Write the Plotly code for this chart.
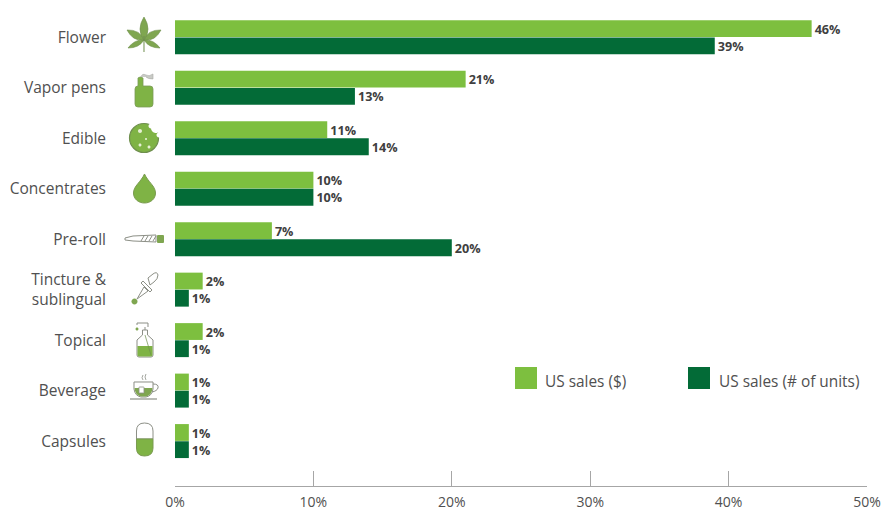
import plotly.graph_objects as go

categories = ["Flower", "Vapor pens", "Edible", "Concentrates", "Pre-roll",
              "Tincture &<br>sublingual", "Topical", "Beverage", "Capsules"]
sales_dollars = [46, 21, 11, 10, 7, 2, 2, 1, 1]
sales_units = [39, 13, 14, 10, 20, 1, 1, 1, 1]
x_ticks = [0, 10, 20, 30, 40, 50]
x_tick_labels = ["0%", "10%", "20%", "30%", "40%", "50%"]
series_names = ["US sales ($)", "US sales (# of units)"]

W, H = 883, 510
LIGHT, DARK = "#7DBF3F", "#036B37"
ICON, OUTLINE = "#7CB342", "#8C8F86"
TEXT = "#505050"
ML, MR, MT, MB = 175, 16, 12, 24


def px(x):
    return (x - ML) / (W - ML - MR)


def py(y):
    return 1 - (y - MT) / (H - MT - MB)


def to_paper(path):
    """Convert an SVG path written in page pixels to paper coordinates."""
    out, is_x = [], True
    for tok in path.split():
        if tok.isalpha():
            out.append(tok)
            is_x = True
        else:
            out.append(f"{px(float(tok)):.5f}" if is_x else f"{py(float(tok)):.5f}")
            is_x = not is_x
    return " ".join(out)


shapes = []


def icon(path, fill=None, line=None, width=1.0):
    shapes.append(dict(
        type="path", xref="paper", yref="paper", path=to_paper(path),
        fillcolor=fill or "rgba(0,0,0,0)",
        line=dict(color=line or "rgba(0,0,0,0)", width=width if line else 0),
        layer="above"))


def disc(cx, cy, r, fill=None, line=None, width=1.0):
    k = 0.5523 * r
    icon(f"M {cx-r} {cy} C {cx-r} {cy-k} {cx-k} {cy-r} {cx} {cy-r} "
         f"C {cx+k} {cy-r} {cx+r} {cy-k} {cx+r} {cy} "
         f"C {cx+r} {cy+k} {cx+k} {cy+r} {cx} {cy+r} "
         f"C {cx-k} {cy+r} {cx-r} {cy+k} {cx-r} {cy} Z", fill, line, width)


def rounded(x0, y0, x1, y1, r, fill=None, line=None, width=1.0):
    icon(f"M {x0+r} {y0} L {x1-r} {y0} Q {x1} {y0} {x1} {y0+r} L {x1} {y1-r} "
         f"Q {x1} {y1} {x1-r} {y1} L {x0+r} {y1} Q {x0} {y1} {x0} {y1-r} "
         f"L {x0} {y0+r} Q {x0} {y0} {x0+r} {y0} Z", fill, line, width)


def leaflet(bx, by, tx, ty, w):
    dx, dy = tx - bx, ty - by
    ln = (dx * dx + dy * dy) ** 0.5
    nx, ny = -dy / ln * w, dx / ln * w
    mx, my = bx + dx * 0.45, by + dy * 0.45
    icon(f"M {bx} {by} Q {mx+nx:.1f} {my+ny:.1f} {tx} {ty} "
         f"Q {mx-nx:.1f} {my-ny:.1f} {bx} {by} Z", "#7FA650", "#6F8F4E", 0.6)


# Flower: cannabis leaf
for tip, w in [((128, 48), 5), ((160, 48), 5), ((127, 30), 7), ((161, 30), 7), ((144, 17), 8)]:
    leaflet(144, 40, tip[0], tip[1], w)
icon("M 144 36 L 144 52", None, "#6F8F4E", 1)

# Vapor pen: cartridge with a puff above it
icon("M 138 86 L 138 78 Q 140 76 143 78 L 143 86 L 150 86 Q 153 86 153 89 L 153 104 "
     "Q 153 107 150 107 L 138 107 Q 135 107 135 104 L 135 89 Q 135 86 138 86 Z",
     "#7FB345", "#7B9A58", 0.8)
icon("M 141 77 Q 142 73 146 75 Q 149 77 153 74 L 153 79 Q 148 79 146 77", "#C9CBC6", "#A8AAA5", 0.6)

# Edible: cookie with a bite
disc(144, 138, 14.5, "#7FB345", "#6F8F4E", 1.2)
disc(156, 128, 5, "#FFFFFF")
disc(151, 126, 2.5, "#FFFFFF")
disc(159, 135, 2.5, "#FFFFFF")
for cx, cy, r in [(140, 131, 2), (140, 145, 1.5), (149, 147, 1.5), (146, 139, 1)]:
    disc(cx, cy, r, "#E6F0D5")

# Concentrates: droplet
icon("M 144.5 174 C 141 182 133.5 186 133.5 193 C 133.5 199 138.5 203 144.5 203 "
     "C 150.5 203 155.5 199 155.5 193 C 155.5 186 148 182 144.5 174 Z",
     "#7FB345", "#7A9A50", 1)

# Pre-roll: joint with a filter tip
icon("M 125 238 L 133 236 L 156 235 L 156 242 L 133 241 L 125 240 Z", "#FFFFFF", OUTLINE, 1)
for sx in (141, 145, 149, 153):
    icon(f"M {sx} 241 L {sx+3} 236", None, OUTLINE, 1)
rounded(157, 235, 164, 243, 1, "#7FA650")

# Tincture: dropper pipette
icon("M 148 278 L 153 274 Q 157 271 158 275 Q 158 279 154 282 L 150 285 Z", "#FFFFFF", OUTLINE, 1)
icon("M 143 281 L 152 290 L 150 292 L 141 283 Z", "#FFFFFF", OUTLINE, 1)
icon("M 144 287 L 148 291 L 137 299 Z", "#FFFFFF", OUTLINE, 1)
disc(134.5, 301.5, 3, "#7FA650")

# Topical: pump bottle
icon("M 142.5 330 L 147.5 330 L 147.5 335 L 153 340 L 153 355 Q 153 357 151 357 L 139 357 "
     "Q 137 357 137 355 L 137 340 L 142.5 335 Z", "#FFFFFF", OUTLINE, 1)
icon("M 137.5 346 L 152.5 346 L 152.5 355 Q 152.5 356.5 151 356.5 L 139 356.5 "
     "Q 137.5 356.5 137.5 355 Z", "#7FB345")
icon("M 137 325 L 137 323 L 148 323 L 148 327 M 145 327 L 145 330", None, OUTLINE, 1)
icon("M 145 335 L 151 355", None, "#6F8F4E", 0.7)
disc(137, 329, 1.5, "#7FA650")

# Beverage: tea cup and saucer
icon("M 134 382 L 153 382 L 153 389 Q 152 396 146 397 L 141 397 Q 135 396 134 389 Z", "#FFFFFF", OUTLINE, 1)
icon("M 134.5 388 L 152.5 388 Q 152 395 146 396.5 L 141 396.5 Q 135 395 134.5 388 Z", "#7FA650")
icon("M 153 384 Q 159 384 158 388 Q 157 391 152 392", None, OUTLINE, 1)
icon("M 130 399 L 157 399", None, OUTLINE, 1.2)
icon("M 143 375 Q 141 378 143 380 M 146 374 Q 144 377 146 380", None, OUTLINE, 0.8)
rounded(139, 387, 144, 393, 0.5, "#FFFFFF", OUTLINE, 0.8)

# Capsules: half-filled pill
icon("M 136.5 439 L 136.5 431 Q 136.5 423 144.5 423 Q 153 423 153 431 L 153 439 Z", "#FFFFFF", OUTLINE, 1)
icon("M 136.5 439 L 153 439 L 153 448 Q 153 456 144.5 456 Q 136.5 456 136.5 448 Z", "#7FB345", "#7A9A50", 1)

# Legend swatches
shapes.append(dict(type="rect", xref="paper", yref="paper", x0=px(515), x1=px(537),
                   y0=py(389), y1=py(367), fillcolor=LIGHT, line_width=0))
shapes.append(dict(type="rect", xref="paper", yref="paper", x0=px(688), x1=px(710),
                   y0=py(389), y1=py(367), fillcolor=DARK, line_width=0))

annotations = [
    dict(text=series_names[0], x=px(543), y=py(381.5), xref="paper", yref="paper",
         xanchor="left", yanchor="middle", showarrow=False,
         font=dict(family="Open Sans", size=15.4, color=TEXT)),
    dict(text=series_names[1], x=px(717), y=py(381.5), xref="paper", yref="paper",
         xanchor="left", yanchor="middle", showarrow=False,
         font=dict(family="Open Sans", size=15.4, color=TEXT)),
]

fig = go.Figure()
for name, values, color in [(series_names[0], sales_dollars, LIGHT),
                            (series_names[1], sales_units, DARK)]:
    fig.add_bar(
        y=categories, x=values, name=name, orientation="h",
        marker=dict(color=color, line_width=0),
        text=[f"{v}%" for v in values], textposition="outside", cliponaxis=False,
        textfont=dict(family="Open Sans", size=15, color="#404040", weight="bold"),
    )

fig.update_layout(
    width=W, height=H, autosize=False, showlegend=False,
    margin=dict(l=ML, r=MR, t=MT, b=MB, pad=0, autoexpand=False),
    paper_bgcolor="white", plot_bgcolor="white",
    barmode="group", bargap=0.32, bargroupgap=0.02,
    shapes=shapes, annotations=annotations,
)
fig.update_xaxes(
    automargin=False, range=[0, 50], tickvals=x_ticks, ticktext=x_tick_labels,
    ticks="inside", ticklen=15, tickcolor="#A6A6A6", tickwidth=1,
    showline=True, linecolor="#A6A6A6", linewidth=1, showgrid=False, zeroline=False,
    ticklabelstandoff=3,
    tickfont=dict(family="Open Sans", size=14, color=TEXT),
)
fig.update_yaxes(
    automargin=False, range=[8.89, -0.5], type="category", categoryorder="array",
    categoryarray=categories,
    showline=False, showgrid=False, zeroline=False, ticks="", ticklabelstandoff=68,
    tickfont=dict(family="Open Sans", size=15.5, color=TEXT),
)

fig.write_html("out.html", config=dict(displayModeBar=False))
